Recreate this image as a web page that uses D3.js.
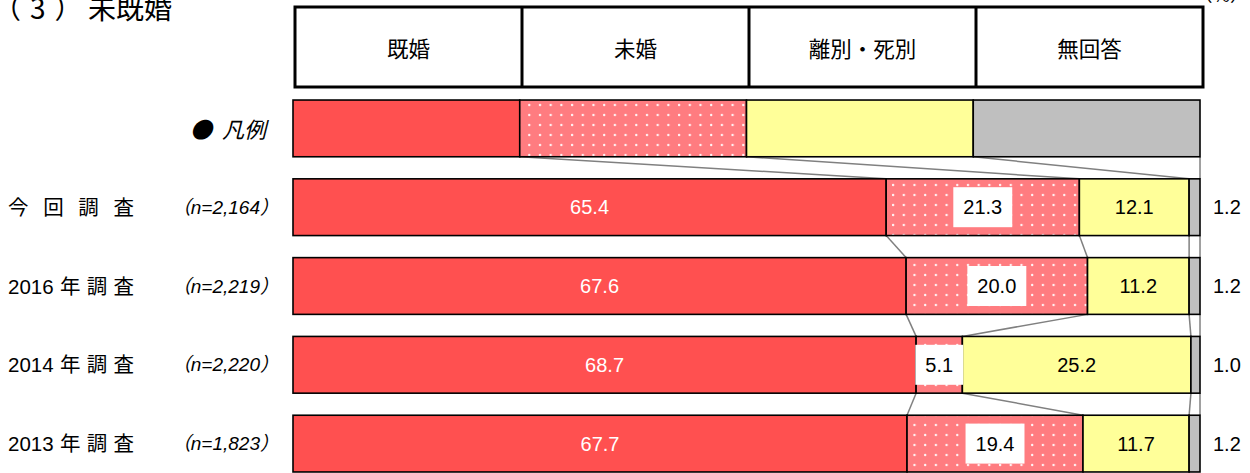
<!DOCTYPE html>
<html><head><meta charset="utf-8">
<script src="https://cdn.jsdelivr.net/npm/d3@7"></script>
<style>
html,body{margin:0;padding:0;background:#fff;overflow:hidden;}
svg{display:block;}
</style></head><body>
<svg id="chart" width="1250" height="473"></svg>
<script>
// ---- data ----
const titleNumber = "（3）";
const titleText = "未既婚";
const unitLabel = "（%）";
const categories = ["既婚", "未婚", "離別・死別", "無回答"];
const legendLabel = "● 凡例";
const legendValues = [25, 25, 25, 25];
const surveys = ["今 回 調 査", "2016 年 調 査", "2014 年 調 査", "2013 年 調 査"];
const sampleSizes = ["（n=2,164）", "（n=2,219）", "（n=2,220）", "（n=1,823）"];
const married = [65.4, 67.6, 68.7, 67.7];
const unmarried = [21.3, 20.0, 5.1, 19.4];
const separated = [12.1, 11.2, 25.2, 11.7];
const noAnswer = [1.2, 1.2, 1.0, 1.2];

// ---- setup ----
const svg = d3.select("#chart");
const jp = "'Noto Sans CJK JP', sans-serif";
const num = "'Liberation Sans', Arial, 'Noto Sans CJK JP', sans-serif";

const keys = ["married", "unmarried", "separated", "noAnswer"];
const seriesValues = [married, unmarried, separated, noAnswer];

const rows = [{ id: "legend", legend: true }];
keys.forEach((k, j) => rows[0][k] = legendValues[j]);
surveys.forEach((s, i) => {
  const r = { id: s, legend: false, n: sampleSizes[i] };
  keys.forEach((k, j) => r[k] = seriesValues[j][i]);
  rows.push(r);
});

const stacked = d3.stack().keys(keys)(rows);

const x = d3.scaleLinear().domain([0, 100]).range([293, 1200]);
const y = d3.scaleBand().domain(rows.map(r => r.id))
  .range([89, 483]).paddingInner(0.28).paddingOuter(0.14);
const bw = y.bandwidth();

// dotted fill for the 未婚 segment
const defs = svg.append("defs");
const pat = defs.append("pattern").attr("id", "dots")
  .attr("patternUnits", "userSpaceOnUse")
  .attr("width", 10.7).attr("height", 10);
pat.append("rect").attr("width", 10.7).attr("height", 10).attr("fill", "#FF7C80");
pat.append("circle").attr("cx", 5).attr("cy", 5).attr("r", 1.2)
  .attr("fill", "#fff").attr("opacity", 0.9);

const fills = ["#FF5050", "url(#dots)", "#FFFF99", "#BFBFBF"];

// ---- title ----
svg.append("text").attr("x", -7).attr("y", 19)
  .attr("font-family", jp).attr("font-size", 28).attr("letter-spacing", 9)
  .attr("fill", "#000").text(titleNumber);
svg.append("text").attr("x", 88).attr("y", 19)
  .attr("font-family", jp).attr("font-size", 28)
  .attr("fill", "#000").text(titleText);
svg.append("text").attr("x", 1249).attr("y", 2)
  .attr("text-anchor", "end")
  .attr("font-family", jp).attr("font-size", 19).attr("fill", "#000")
  .text(unitLabel);

// ---- header table of categories ----
const hx = d3.scaleLinear().domain([0, categories.length]).range([295, 1203]);
const hTop = 7, hBot = 87;
const header = svg.append("g");
header.append("rect").attr("x", hx(0)).attr("y", hTop)
  .attr("width", hx(categories.length) - hx(0)).attr("height", hBot - hTop)
  .attr("fill", "#fff").attr("stroke", "#000").attr("stroke-width", 3);
header.selectAll("line.div").data(d3.range(1, categories.length)).join("line")
  .attr("x1", d => hx(d)).attr("x2", d => hx(d))
  .attr("y1", hTop).attr("y2", hBot)
  .attr("stroke", "#000").attr("stroke-width", 3);
header.selectAll("text").data(categories).join("text")
  .attr("x", (d, i) => (hx(i) + hx(i + 1)) / 2)
  .attr("y", (hTop + hBot) / 2)
  .attr("text-anchor", "middle").attr("dominant-baseline", "central")
  .attr("font-family", jp).attr("font-size", 21.5).attr("fill", "#000")
  .text(d => d);

// ---- connector lines between consecutive bars ----
const conn = svg.append("g");
for (let i = 0; i < rows.length - 1; i++) {
  keys.forEach((k, j) => {
    conn.append("line")
      .attr("x1", x(stacked[j][i][1])).attr("y1", y(rows[i].id) + bw)
      .attr("x2", x(stacked[j][i + 1][1])).attr("y2", y(rows[i + 1].id))
      .attr("stroke", "#808080").attr("stroke-width", 1.5);
  });
}

// ---- bars ----
const bars = svg.append("g");
stacked.forEach((series, j) => {
  bars.selectAll(null).data(series).join("rect")
    .attr("x", d => x(d[0]))
    .attr("y", d => y(d.data.id))
    .attr("width", d => x(d[1]) - x(d[0]))
    .attr("height", bw)
    .attr("fill", fills[j])
    .attr("stroke", "#000").attr("stroke-width", 1.6);
});

// ---- value labels ----
const fmt = d3.format(".1f");
const labels = svg.append("g").attr("font-family", num).attr("font-size", 20);
stacked.forEach((series, j) => {
  series.forEach(d => {
    if (d.data.legend) return;
    const v = d[1] - d[0];
    const cy = y(d.data.id) + bw / 2;
    const cx = (x(d[0]) + x(d[1])) / 2;
    if (j === 3) {
      labels.append("text").attr("x", x(100) + 13).attr("y", cy)
        .attr("dominant-baseline", "central").attr("fill", "#000")
        .text(fmt(v));
      return;
    }
    const t = labels.append("text").attr("x", cx).attr("y", cy)
      .attr("text-anchor", "middle").attr("dominant-baseline", "central")
      .attr("fill", j === 0 ? "#fff" : "#000")
      .text(fmt(v));
    if (j === 1) {
      const w = t.node().getComputedTextLength() + 20;
      labels.insert("rect", () => t.node())
        .attr("x", cx - w / 2).attr("y", cy - 20)
        .attr("width", w).attr("height", 40)
        .attr("fill", "#fff");
    }
  });
});

// ---- row labels ----
const left = svg.append("g");
left.append("text")
  .attr("x", 266).attr("y", y("legend") + bw / 2)
  .attr("text-anchor", "end").attr("dominant-baseline", "central")
  .attr("font-family", jp).attr("font-size", 22).attr("font-style", "italic")
  .attr("word-spacing", 5)
  .attr("fill", "#000").text(legendLabel);

rows.filter(r => !r.legend).forEach(r => {
  const cy = y(r.id) + bw / 2;
  // survey name, justified between a fixed left and right edge
  const tokens = r.id.split(" ");
  const g = left.append("g");
  const nodes = tokens.map(tk => g.append("text")
    .attr("y", cy).attr("dominant-baseline", "central")
    .attr("font-family", num).attr("font-size", 20.5).attr("fill", "#000")
    .text(tk));
  const widths = nodes.map(n => n.node().getComputedTextLength());
  const x0 = 8, x1 = 134;
  const gap = (x1 - x0 - d3.sum(widths)) / (tokens.length - 1);
  let cx = x0;
  nodes.forEach((n, i) => { n.attr("x", cx); cx += widths[i] + gap; });

  left.append("text")
    .attr("x", 279).attr("y", cy)
    .attr("text-anchor", "end").attr("dominant-baseline", "central")
    .attr("font-family", num).attr("font-size", 19).attr("font-style", "italic")
    .attr("fill", "#000").text(r.n);
});
</script>
</body></html>
